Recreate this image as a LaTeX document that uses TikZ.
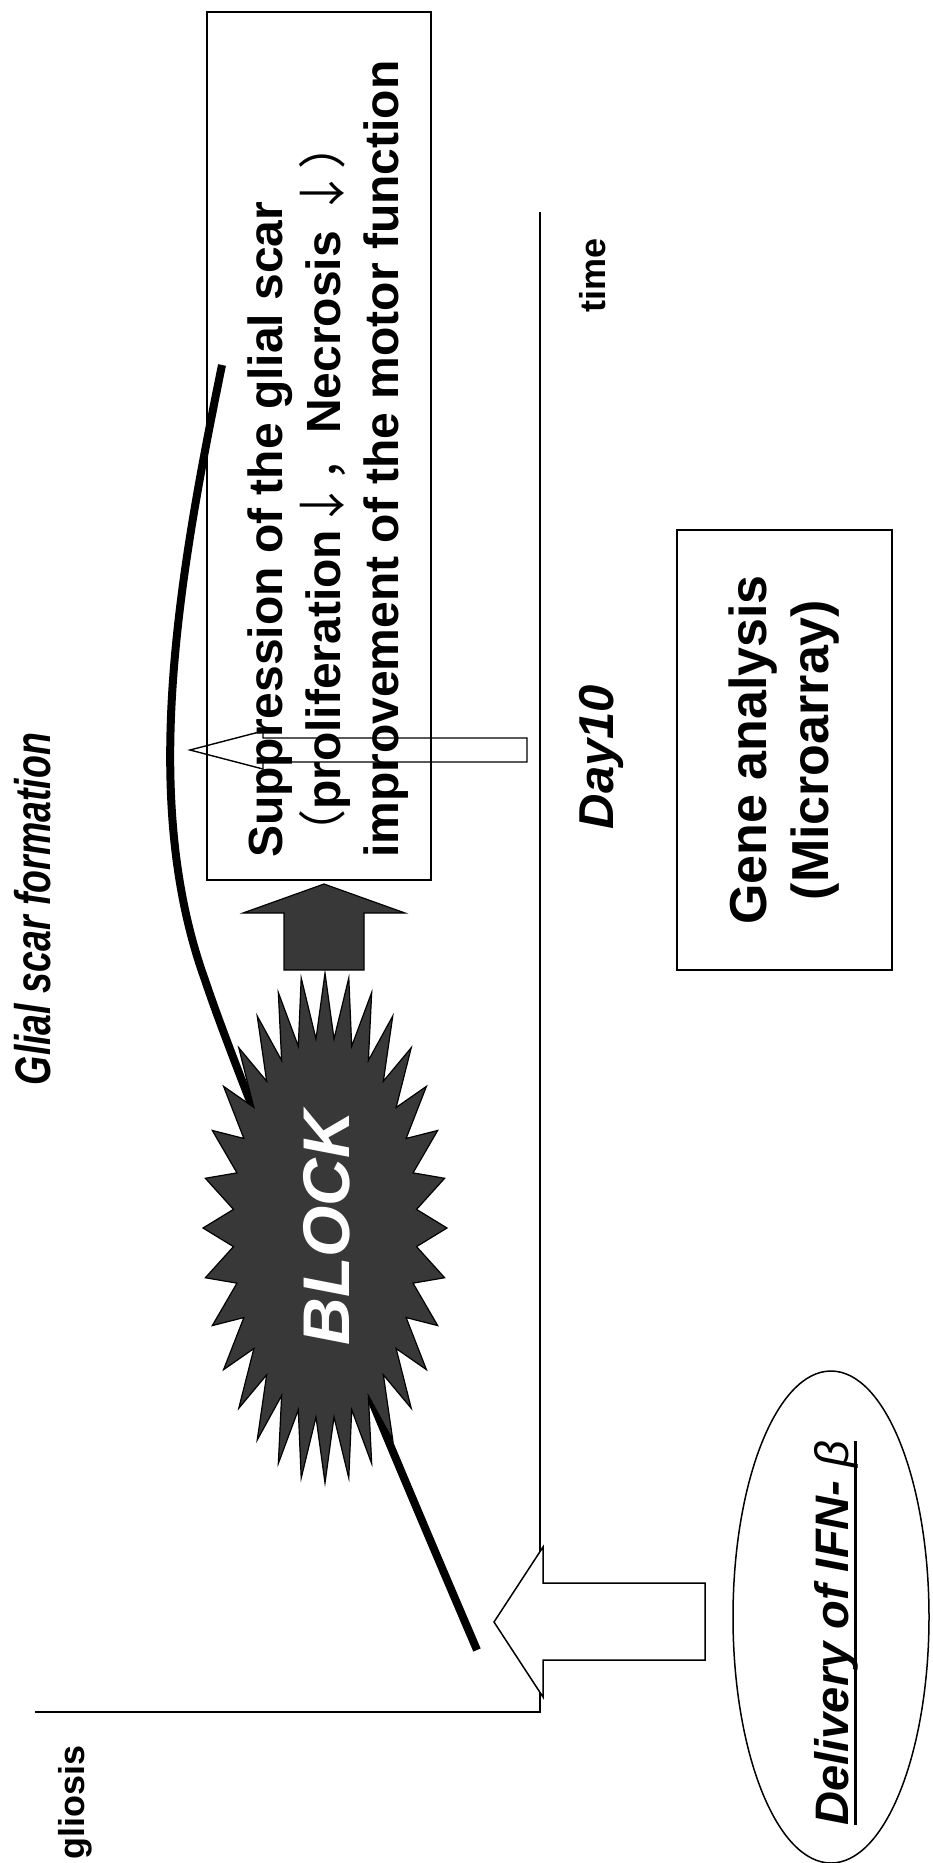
\documentclass[tikz,border=0pt]{standalone}
\usepackage{fontspec}
\usepackage{graphicx}
\setmainfont{Liberation Sans}
\newfontfamily\cjk{Noto Sans CJK JP}
\usetikzlibrary{shapes.geometric}
\newcommand\thickul[1]{\setbox0\hbox{#1}\rlap{\rule[-9pt]{\wd0}{3pt}}\box0}

\begin{document}
\begin{tikzpicture}[x=1pt,y=-1pt,
    boxline/.style={draw=black,line width=1.6pt},
    lbl/.style={inner sep=0pt,rotate=90},
    hollow/.style={draw=black,line width=1.5pt,fill=white},
    darkfill/.style={draw=black,line width=1.2pt,fill=black!78},
    axisline/.style={draw=black,line width=1.8pt},
    scarline/.style={draw=black,line width=8pt}]
  \useasboundingbox (0,0) rectangle (932,1863);
  % axes
  \coordinate (origin) at (540,1712);
  \coordinate (gtop) at (35,1712);
  \coordinate (tend) at (540,212);
  \draw[axisline] (gtop) -- (origin) -- (tend);
  % glial scar curve
  \coordinate (scarstart) at (477,1650);
  \coordinate (scarend) at (222,365);
  \draw[scarline] (scarend) .. controls (178,580) and (140,800) .. (205,980)
    .. controls (235,1070) and (340,1330) .. (scarstart);
  % block star
  \path[darkfill] plot[samples at={0,1,...,63},variable=\k]
    ({325+(107+15*cos(\k*180))*cos(\k*5.625)},{1228+(222.5+32.5*cos(\k*180))*sin(\k*5.625)}) -- cycle;
  \node[lbl,text=white,font=\fontsize{66}{80}\selectfont\bfseries\itshape] (block) at (327,1228) {BLOCK};
  % dark arrow towards the box
  \path[darkfill] (324,884) -- (405,913) -- (364,913) -- (364,970) -- (284,970) -- (284,913) -- (243,913) -- cycle;
  % thin arrow from day 10
  \draw[line width=1.4pt] (190,750) -- (263,731) -- (263,738) -- (527,738) -- (527,762) -- (263,762) -- (263,769) -- cycle;
  % result box
  \draw[boxline] (207,12) rectangle (431,880);
  \node[lbl,anchor=north west,align=left,font=\fontsize{48}{58}\selectfont\bfseries] (supp) at (248,858)
    {Suppression of the glial scar\\{\cjk\mdseries （}proliferation{\cjk\mdseries ↓，}Necrosis {\cjk\mdseries ↓）}\\improvement of the motor function};
  % delivery
  \path[hollow] (494,1622) -- (543,1547) -- (543,1583) -- (705,1583) -- (705,1660) -- (543,1660) -- (543,1697) -- cycle;
  \draw[line width=1.5pt] (831,1617) ellipse [x radius=98, y radius=246];
  \node[lbl,font=\fontsize{47}{56}\selectfont\bfseries\itshape] (deliv) at (836,1633) {\thickul{Delivery of IFN- {\mdseries β}}};
  % labels
  \node[lbl,anchor=base,font=\fontsize{50}{60}\selectfont\bfseries\itshape] (glial) at (50,909) {\scalebox{0.75}[1]{Glial scar formation}};
  \node[lbl,anchor=base,font=\fontsize{49}{59}\selectfont\bfseries\itshape] (day) at (613,757) {Day10};
  \node[lbl,anchor=base,font=\fontsize{36}{43}\selectfont\bfseries] (time) at (605,275) {time};
  \node[lbl,anchor=base,font=\fontsize{36}{43}\selectfont\bfseries] (gliosis) at (84,1802) {gliosis};
  \node[lbl,boxline,align=center,minimum width=440pt,minimum height=215pt,font=\fontsize{52}{62}\selectfont\bfseries] (gene) at (784.5,750) {Gene analysis\\(Microarray)};
\end{tikzpicture}
\end{document}
